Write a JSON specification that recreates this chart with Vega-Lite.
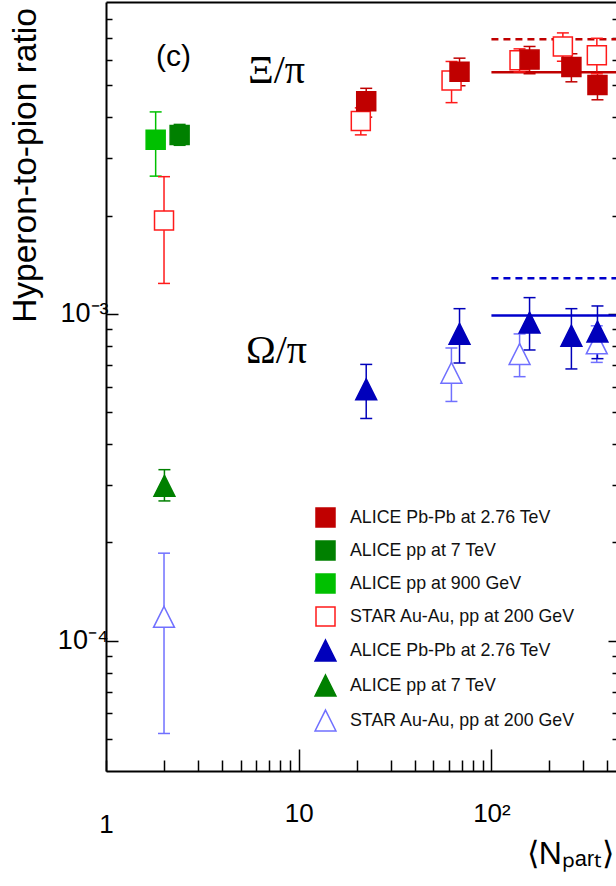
{
  "$schema": "https://vega.github.io/schema/vega-lite/v6.json",
  "width": 510,
  "height": 769,
  "autosize": {"type": "none"},
  "padding": {"left": 106, "top": 2, "right": 0, "bottom": 115},
  "background": "white",
  "config": {
    "view": {"stroke": null},
    "axis": {
      "domainColor": "black", "domainWidth": 2, "tickColor": "black", "tickWidth": 1.5,
      "grid": false, "labelFont": "Liberation Sans", "labelFontSize": 26, "labelColor": "black",
      "titleFont": "Liberation Sans", "titleColor": "black", "titleFontWeight": "normal",
      "labelOverlap": false, "labelFlush": false, "labelBound": false
    },
    "legend": {
      "title": null, "padding": 0,
      "symbolSize": 361, "symbolStrokeWidth": 1.5,
      "labelFont": "Liberation Sans", "labelFontSize": 17.8, "labelColor": "#111111",
      "labelOffset": 14, "rowPadding": 8, "labelLimit": 400
    }
  },
  "datasets": {
    "points": [
      {"series": "Ξ/π · STAR Au-Au, pp at 200 GeV", "npart": 2.0, "value": 0.00193, "lo": 0.00124, "hi": 0.00263},
      {"series": "Ξ/π · STAR Au-Au, pp at 200 GeV", "npart": 21.0, "value": 0.00389, "lo": 0.00353, "hi": 0.00427},
      {"series": "Ξ/π · STAR Au-Au, pp at 200 GeV", "npart": 62.1, "value": 0.00518, "lo": 0.00443, "hi": 0.00592},
      {"series": "Ξ/π · STAR Au-Au, pp at 200 GeV", "npart": 139.9, "value": 0.00597, "lo": 0.0055, "hi": 0.00647},
      {"series": "Ξ/π · STAR Au-Au, pp at 200 GeV", "npart": 234.8, "value": 0.00658, "lo": 0.00593, "hi": 0.00724},
      {"series": "Ξ/π · STAR Au-Au, pp at 200 GeV", "npart": 352.4, "value": 0.00619, "lo": 0.00543, "hi": 0.00697},
      {"series": "Ω/π · STAR Au-Au, pp at 200 GeV", "npart": 2.0, "value": 0.0001184, "lo": 0.0000521, "hi": 0.0001855},
      {"series": "Ω/π · STAR Au-Au, pp at 200 GeV", "npart": 62.0, "value": 0.000661, "lo": 0.00054, "hi": 0.000787},
      {"series": "Ω/π · STAR Au-Au, pp at 200 GeV", "npart": 140.0, "value": 0.000754, "lo": 0.000643, "hi": 0.000869},
      {"series": "Ω/π · STAR Au-Au, pp at 200 GeV", "npart": 352.0, "value": 0.000813, "lo": 0.000711, "hi": 0.00092},
      {"series": "Ξ/π · ALICE pp at 900 GeV", "npart": 1.81, "value": 0.00341, "lo": 0.00264, "hi": 0.00415},
      {"series": "Ξ/π · ALICE pp at 7 TeV", "npart": 2.41, "value": 0.00353, "lo": 0.00328, "hi": 0.0038},
      {"series": "Ω/π · ALICE pp at 7 TeV", "npart": 2.01, "value": 0.000298, "lo": 0.000268, "hi": 0.000334},
      {"series": "Ξ/π · ALICE Pb-Pb at 2.76 TeV", "npart": 22.4, "value": 0.00447, "lo": 0.004, "hi": 0.0049},
      {"series": "Ξ/π · ALICE Pb-Pb at 2.76 TeV", "npart": 68.3, "value": 0.00551, "lo": 0.00499, "hi": 0.00606},
      {"series": "Ξ/π · ALICE Pb-Pb at 2.76 TeV", "npart": 157.7, "value": 0.006, "lo": 0.00543, "hi": 0.00658},
      {"series": "Ξ/π · ALICE Pb-Pb at 2.76 TeV", "npart": 260.0, "value": 0.00569, "lo": 0.00513, "hi": 0.00625},
      {"series": "Ξ/π · ALICE Pb-Pb at 2.76 TeV", "npart": 355.0, "value": 0.00502, "lo": 0.00452, "hi": 0.00549},
      {"series": "Ω/π · ALICE Pb-Pb at 2.76 TeV", "npart": 22.4, "value": 0.000588, "lo": 0.000479, "hi": 0.000701},
      {"series": "Ω/π · ALICE Pb-Pb at 2.76 TeV", "npart": 68.3, "value": 0.000869, "lo": 0.000708, "hi": 0.001038},
      {"series": "Ω/π · ALICE Pb-Pb at 2.76 TeV", "npart": 157.7, "value": 0.000941, "lo": 0.000776, "hi": 0.001122},
      {"series": "Ω/π · ALICE Pb-Pb at 2.76 TeV", "npart": 260.0, "value": 0.000858, "lo": 0.000679, "hi": 0.001038},
      {"series": "Ω/π · ALICE Pb-Pb at 2.76 TeV", "npart": 355.0, "value": 0.000883, "lo": 0.00073, "hi": 0.001058}
    ],
    "lines": [
      {"ratio": "Ξ/π", "model": "model A", "from": 100, "to": 443, "value": 0.00549},
      {"ratio": "Ξ/π", "model": "model B", "from": 100, "to": 443, "value": 0.00692},
      {"ratio": "Ω/π", "model": "model A", "from": 100, "to": 443, "value": 0.00099},
      {"ratio": "Ω/π", "model": "model B", "from": 100, "to": 443, "value": 0.001285}
    ]
  },
  "resolve": {"axis": {"x": "independent", "y": "independent"}},
  "layer": [
    {
      "data": {"name": "lines"},
      "transform": [{"filter": "datum.ratio == 'Ξ/π'"}],
      "mark": {"type": "rule", "strokeWidth": 2.5, "color": "#c00000"},
      "encoding": {
        "x": {"field": "from", "type": "quantitative", "scale": {"type": "log", "domain": [1, 443], "nice": false}, "axis": null},
        "x2": {"field": "to"},
        "y": {"field": "value", "type": "quantitative", "scale": {"type": "log", "domain": [0.00004, 0.009], "nice": false}, "axis": null},
        "strokeDash": {"field": "model", "type": "nominal", "scale": {"domain": ["model A", "model B"], "range": [[1, 0], [7, 5]]}, "legend": null}
      }
    },
    {
      "data": {"name": "lines"},
      "transform": [{"filter": "datum.ratio == 'Ω/π'"}],
      "mark": {"type": "rule", "strokeWidth": 2.5, "color": "#0000cc"},
      "encoding": {
        "x": {"field": "from", "type": "quantitative", "axis": null},
        "x2": {"field": "to"},
        "y": {"field": "value", "type": "quantitative", "axis": null},
        "strokeDash": {"field": "model", "type": "nominal", "legend": null}
      }
    },
    {
      "data": {"name": "points"},
      "mark": {"type": "rule", "strokeWidth": 1.5},
      "encoding": {
        "x": {"field": "npart", "type": "quantitative", "axis": null},
        "y": {"field": "lo", "type": "quantitative", "axis": null},
        "y2": {"field": "hi"},
        "color": {"field": "series", "type": "nominal", "legend": null,
          "scale": {"domain": ["Ω/π · STAR Au-Au, pp at 200 GeV", "Ω/π · ALICE pp at 7 TeV", "Ω/π · ALICE Pb-Pb at 2.76 TeV", "Ξ/π · STAR Au-Au, pp at 200 GeV", "Ξ/π · ALICE pp at 900 GeV", "Ξ/π · ALICE pp at 7 TeV", "Ξ/π · ALICE Pb-Pb at 2.76 TeV"],
                    "range": ["#7070ff", "#008000", "#0000bb", "#ff1a1a", "#00c000", "#008000", "#c00000"]}}
      }
    },
    {
      "data": {"name": "points"},
      "mark": {"type": "rule", "strokeWidth": 1.5, "xOffset": -6, "x2Offset": 6},
      "encoding": {
        "x": {"field": "npart", "type": "quantitative", "axis": null},
        "x2": {"field": "npart"},
        "y": {"field": "lo", "type": "quantitative", "axis": null},
        "color": {"field": "series", "type": "nominal", "legend": null}
      }
    },
    {
      "data": {"name": "points"},
      "mark": {"type": "rule", "strokeWidth": 1.5, "xOffset": -6, "x2Offset": 6},
      "encoding": {
        "x": {"field": "npart", "type": "quantitative", "axis": null},
        "x2": {"field": "npart"},
        "y": {"field": "hi", "type": "quantitative", "axis": null},
        "color": {"field": "series", "type": "nominal", "legend": null}
      }
    },
    {
      "data": {"name": "points"},
      "mark": {"type": "point", "size": 361, "strokeWidth": 1.5, "opacity": 1, "fillOpacity": 1},
      "encoding": {
        "x": {"field": "npart", "type": "quantitative",
          "axis": {"orient": "bottom", "values": [1, 2, 3, 4, 5, 6, 7, 8, 9, 10, 20, 30, 40, 50, 60, 70, 80, 90, 100, 200, 300, 400],
            "labelExpr": "datum.value == 1 ? '1' : datum.value == 10 ? '10' : datum.value == 100 ? '10²' : ''",
            "tickSize": {"condition": {"test": "datum.value == 10 || datum.value == 100", "value": -22}, "value": -11},
            "labelPadding": 51, "labelAlign": "center",
            "title": "⟨Nₚₐᵣₜ⟩", "titleFontSize": 32, "titleX": 464, "titleY": 92, "titleAlign": "center", "titleBaseline": "alphabetic"}},
        "y": {"field": "value", "type": "quantitative",
          "axis": {"orient": "left", "values": [0.00005, 0.00006, 0.00007, 0.00008, 0.00009, 0.0001, 0.0002, 0.0003, 0.0004, 0.0005, 0.0006, 0.0007, 0.0008, 0.0009, 0.001, 0.002, 0.003, 0.004, 0.005, 0.006, 0.007, 0.008],
            "labelExpr": "datum.value == 0.001 ? '10⁻³' : datum.value == 0.0001 ? '10⁻⁴' : ''",
            "tickSize": {"condition": {"test": "datum.value == 0.001 || datum.value == 0.0001", "value": -12}, "value": -6},
            "labelPadding": 10, "labelBaseline": "middle", "labelFontSize": 27,
            "title": "Hyperon-to-pion ratio", "titleFontSize": 33.5, "titleX": -71, "titleY": 163, "titleAngle": 270, "titleAlign": "center", "titleBaseline": "alphabetic"}},
        "fill": {"field": "series", "type": "nominal",
          "scale": {"domain": ["Ξ/π · ALICE Pb-Pb at 2.76 TeV", "Ξ/π · ALICE pp at 7 TeV", "Ξ/π · ALICE pp at 900 GeV", "Ξ/π · STAR Au-Au, pp at 200 GeV", "Ω/π · ALICE Pb-Pb at 2.76 TeV", "Ω/π · ALICE pp at 7 TeV", "Ω/π · STAR Au-Au, pp at 200 GeV"],
                    "range": ["#c00000", "#008000", "#00c000", "#ffffff", "#0000bb", "#008000", "#ffffff"]},
          "legend": {"orient": "none", "legendX": 209, "legendY": 505, "labelExpr": "slice(datum.label, 6)"}},
        "stroke": {"field": "series", "type": "nominal",
          "scale": {"domain": ["Ξ/π · ALICE Pb-Pb at 2.76 TeV", "Ξ/π · ALICE pp at 7 TeV", "Ξ/π · ALICE pp at 900 GeV", "Ξ/π · STAR Au-Au, pp at 200 GeV", "Ω/π · ALICE Pb-Pb at 2.76 TeV", "Ω/π · ALICE pp at 7 TeV", "Ω/π · STAR Au-Au, pp at 200 GeV"],
                    "range": ["#c00000", "#008000", "#00c000", "#ff1a1a", "#0000bb", "#008000", "#7070ff"]},
          "legend": {"orient": "none", "legendX": 209, "legendY": 505, "labelExpr": "slice(datum.label, 6)"}},
        "shape": {"field": "series", "type": "nominal",
          "scale": {"domain": ["Ξ/π · ALICE Pb-Pb at 2.76 TeV", "Ξ/π · ALICE pp at 7 TeV", "Ξ/π · ALICE pp at 900 GeV", "Ξ/π · STAR Au-Au, pp at 200 GeV", "Ω/π · ALICE Pb-Pb at 2.76 TeV", "Ω/π · ALICE pp at 7 TeV", "Ω/π · STAR Au-Au, pp at 200 GeV"],
                    "range": ["square", "square", "square", "square", "M0,-1.1L1.1,1.1L-1.1,1.1Z", "M0,-1.1L1.1,1.1L-1.1,1.1Z", "M0,-1.1L1.1,1.1L-1.1,1.1Z"]},
          "legend": {"orient": "none", "legendX": 209, "legendY": 505, "labelExpr": "slice(datum.label, 6)"}}
      }
    },
    {
      "data": {"values": [{}]},
      "mark": {"type": "text", "text": "(c)", "font": "Liberation Sans", "fontSize": 30, "align": "center", "baseline": "alphabetic", "color": "black"},
      "encoding": {
        "x": {"datum": 2.24, "type": "quantitative",
          "axis": {"orient": "top", "ticks": false, "labels": false, "domain": true, "title": null}},
        "y": {"datum": 0.00575, "type": "quantitative",
          "axis": {"orient": "right", "domain": false, "labels": false, "title": null,
            "values": [0.00005, 0.00006, 0.00007, 0.00008, 0.00009, 0.0001, 0.0002, 0.0003, 0.0004, 0.0005, 0.0006, 0.0007, 0.0008, 0.0009, 0.001, 0.002, 0.003, 0.004, 0.005, 0.006, 0.007, 0.008],
            "tickSize": {"condition": {"test": "datum.value == 0.001 || datum.value == 0.0001", "value": -8}, "value": -4}}}
      }
    },
    {
      "data": {"values": [{}]},
      "mark": {"type": "text", "text": "Ξ/π", "font": "Liberation Serif", "fontSize": 40, "align": "center", "baseline": "alphabetic", "color": "black"},
      "encoding": {
        "x": {"datum": 7.67, "type": "quantitative", "axis": null},
        "y": {"datum": 0.00507, "type": "quantitative", "axis": null}
      }
    },
    {
      "data": {"values": [{}]},
      "mark": {"type": "text", "text": "Ω/π", "font": "Liberation Serif", "fontSize": 40, "align": "center", "baseline": "alphabetic", "color": "black"},
      "encoding": {
        "x": {"datum": 7.67, "type": "quantitative", "axis": null},
        "y": {"datum": 0.00071, "type": "quantitative", "axis": null}
      }
    }
  ]
}
